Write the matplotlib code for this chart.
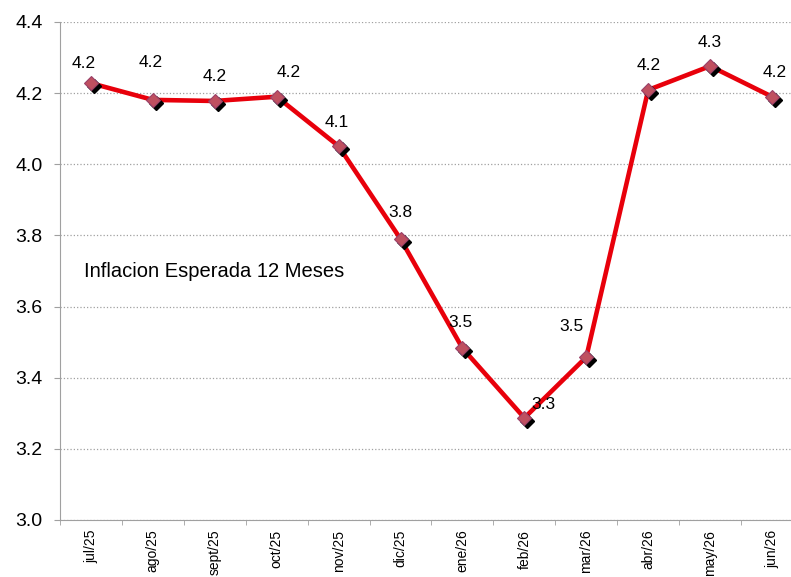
import matplotlib
matplotlib.use("Agg")
import matplotlib.pyplot as plt
from matplotlib.transforms import offset_copy
import numpy as np

plt.rcParams['font.family'] = ['Liberation Sans', 'DejaVu Sans']

# data
meses = ['jul/25', 'ago/25', 'sept/25', 'oct/25', 'nov/25', 'dic/25',
         'ene/26', 'feb/26', 'mar/26', 'abr/26', 'may/26', 'jun/26']
inflacion = [4.228, 4.181, 4.178, 4.19, 4.051, 3.79,
             3.483, 3.287, 3.458, 4.209, 4.276, 4.19]

# label offsets (pixels) so the numbers sit like in the excel chart
label_off = [(-7, 20), (-2, 37), (0, 24), (12, 24), (-2, 24), (0, 26),
             (-2, 26), (19, 13), (-15, 31), (0, 24), (0, 24), (3, 24)]

fig = plt.figure(figsize=(7.91, 5.77), dpi=100)
ax = fig.add_axes([60 / 791, 57 / 577, 743 / 791, 498 / 577])

x = np.arange(len(meses))

# line
ax.plot(x, inflacion, color='#e8000b', lw=3.3, zorder=3, solid_capstyle='round')
# marker shadow
shadow = offset_copy(ax.transData, fig=fig, x=3, y=-3, units='dots')
ax.plot(x, inflacion, ls='none', marker='D', ms=7.5, color='black',
        transform=shadow, zorder=4)
# markers
ax.plot(x, inflacion, ls='none', marker='D', ms=7.5, markerfacecolor='#bf5060',
        markeredgecolor='#9b4068', markeredgewidth=0.8, zorder=5)

for xi, v, off in zip(x, inflacion, label_off):
    ax.annotate(f'{v:.1f}', (xi, v), xytext=off, textcoords='offset pixels',
                ha='center', va='center', fontsize=12.5, color='black', zorder=6)

ax.text(0.032, 0.498, 'Inflacion Esperada 12 Meses', transform=ax.transAxes,
        fontsize=14.5, ha='left', va='center')

ax.set_xlim(-0.5, len(meses) - 0.5)
ax.set_ylim(3.0, 4.4)
yt = np.arange(3.0, 4.41, 0.2)
ax.set_yticks(yt)
ax.set_yticklabels([f'{t:.1f}' for t in yt], fontsize=14)
ax.set_xticks(x)
ax.set_xticklabels(meses, rotation=90, fontsize=10)
ax.set_xticks(np.arange(-0.5, len(meses)), minor=True)
ax.tick_params(axis='x', which='major', length=0, pad=7)
ax.tick_params(axis='x', which='minor', length=3.5, color='#a0a0a0')
ax.tick_params(axis='y', length=4.5, color='#a0a0a0', pad=8)

ax.grid(axis='y', ls=':', color='#a0a0a0', lw=0.9)
ax.set_axisbelow(True)
for s in ['top', 'right']:
    ax.spines[s].set_visible(False)
for s in ['left', 'bottom']:
    ax.spines[s].set_color('#a0a0a0')

fig.savefig('out.png', dpi=100)
